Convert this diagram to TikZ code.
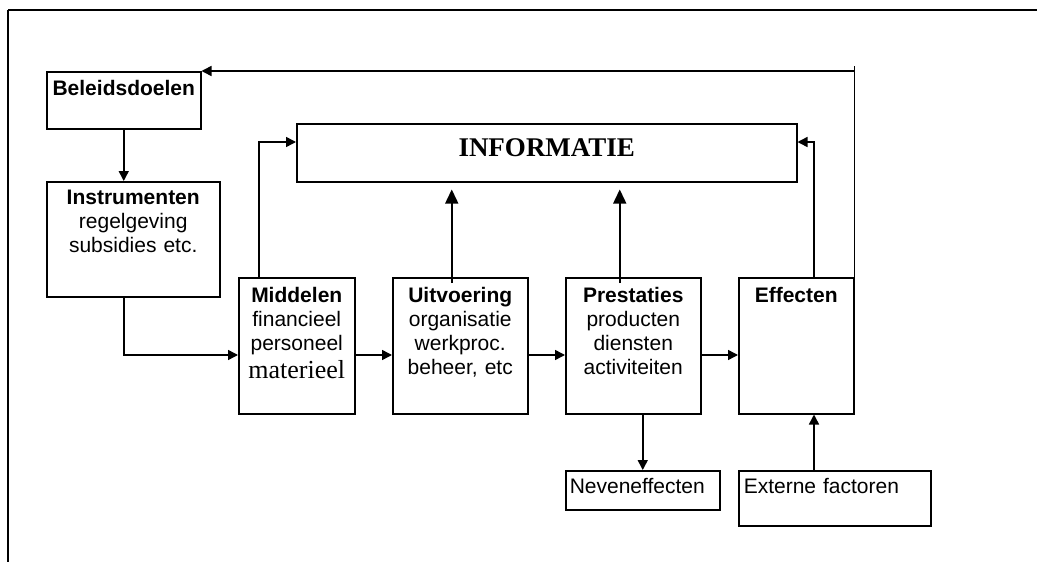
\documentclass[tikz,border=0pt]{standalone}
\usepackage{fontspec}
\setmainfont{Liberation Sans}
\newfontfamily\timesfont{Liberation Serif}
\usetikzlibrary{arrows.meta}

\begin{document}
\begin{tikzpicture}[x=1pt, y=-1pt,
    stage/.style={draw, line width=1.5pt, inner sep=0pt, anchor=north west,
        align=center, font=\fontsize{21}{24}\selectfont},
    flow/.style={line width=1.5pt, -{Triangle[length=10pt, width=10pt]}},
    bigflow/.style={line width=1.5pt, -{Triangle[length=14pt, width=13pt]}},
    link/.style={line width=1.5pt}]

    \useasboundingbox (0,0) rectangle (1037,562);

    % Frame
    \draw[line width=2pt] (8,10) -- (1037,10);
    \draw[line width=1.2pt] (8,10) -- (8,562);

    % Policy
    \node[stage, text width=154pt, text height=24pt, text depth=33pt]
    (beleid) at (46,71) {\textbf{Beleidsdoelen}};
    \node[stage, text width=173pt, text height=23pt, text depth=92pt]
    (instr) at (46,181) {\textbf{Instrumenten}\\regelgeving\\subsidies etc.};

    % Chain
    \node[stage, text width=116pt, text height=25pt, text depth=111pt]
    (midd) at (238,277) {\textbf{Middelen}\\financieel\\personeel\\[4pt]{\timesfont\fontsize{26}{28}\selectfont materieel}};
    \node[stage, text width=135pt, text height=25pt, text depth=111pt]
    (uitv) at (392,277) {\textbf{Uitvoering}\\organisatie\\werkproc.\\beheer, etc};
    \node[stage, text width=135pt, text height=25pt, text depth=111pt]
    (pres) at (565,277) {\textbf{Prestaties}\\producten\\diensten\\activiteiten};
    \node[stage, text width=115pt, text height=25pt, text depth=111pt]
    (eff) at (738,277) {\textbf{Effecten}};

    % Information
    \node[stage, text width=500pt, text height=33pt, text depth=25pt,
    font=\timesfont\bfseries\fontsize{27}{30}\selectfont]
    (info) at (296,123) {INFORMATIE};

    % Side boxes
    \node[stage, align=left, inner xsep=4pt, text width=146pt,
    text height=23pt, text depth=16pt] (nev) at (565,470) {Neveneffecten};
    \node[stage, align=left, inner xsep=5pt, text width=182pt,
    text height=23pt, text depth=32pt] (ext) at (738,470) {Externe factoren};

    % Connections
    \coordinate (chain) at (0,355);
    \coordinate (tap) at (814,142);

    \draw[flow] (beleid.south) -- (beleid.south |- instr.north);
    \draw[flow] (beleid.south |- instr.south) -- (beleid.south |- chain)
    -- (midd.west |- chain);
    \draw[flow] (midd.east |- chain) -- (uitv.west |- chain);
    \draw[flow] (uitv.east |- chain) -- (pres.west |- chain);
    \draw[flow] (pres.east |- chain) -- (eff.west |- chain);

    \draw[flow] ([xshift=-38pt]midd.north) -- ([xshift=-38pt]midd.north |- tap)
    -- (info.west |- tap);
    \draw[bigflow, shorten >=7pt] ([xshift=-8.5pt, yshift=-6pt]uitv.north)
    -- ([xshift=-8.5pt]uitv.north |- info.south);
    \draw[bigflow, shorten >=7pt] ([xshift=-13.5pt, yshift=-6pt]pres.north)
    -- ([xshift=-13.5pt]pres.north |- info.south);
    \draw[flow] (eff.north -| tap) -- (tap) -- (info.east |- tap);
    \draw[link] (eff.north east) -- ([yshift=5pt]eff.north east |- beleid.north);
    \draw[flow] (eff.north east |- beleid.north) -- (beleid.north east);
    \draw[flow] (nev.north |- pres.south) -- (nev.north);
    \draw[flow] (ext.north -| tap) -- (eff.south -| tap);

\end{tikzpicture}
\end{document}
